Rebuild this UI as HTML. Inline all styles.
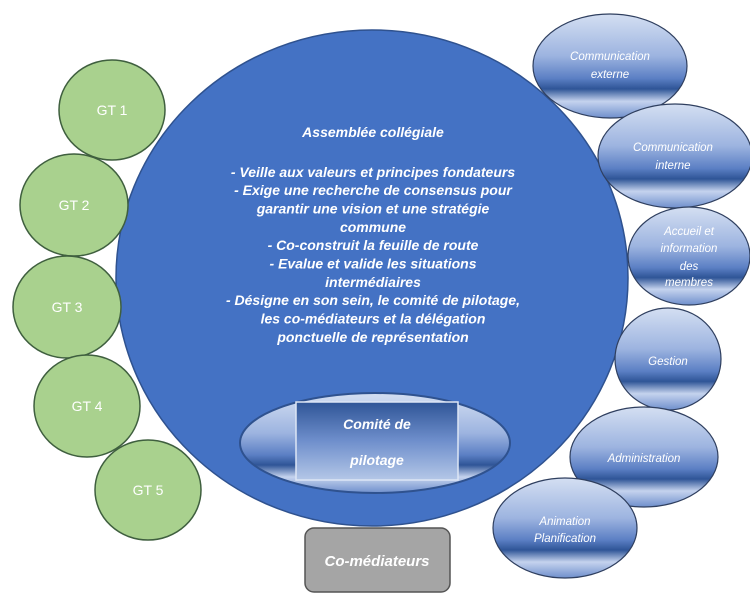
<!DOCTYPE html>
<html><head><meta charset="utf-8"><style>html,body{margin:0;padding:0;background:#fff;width:750px;height:597px;overflow:hidden}</style></head>
<body>
<svg width="750" height="597" viewBox="0 0 750 597" xmlns="http://www.w3.org/2000/svg">
<defs>
<linearGradient id="g" x1="0" y1="0" x2="0" y2="1">
<stop offset="0" stop-color="#d4dff2"/>
<stop offset="0.4" stop-color="#9db4e0"/>
<stop offset="0.62" stop-color="#5b7fc4"/>
<stop offset="0.72" stop-color="#2f5597"/>
<stop offset="0.84" stop-color="#c5d3ee"/>
<stop offset="1" stop-color="#6f8fcc"/>
</linearGradient>
<linearGradient id="r" x1="0" y1="0" x2="0" y2="1">
<stop offset="0" stop-color="#2f5597"/>
<stop offset="0.5" stop-color="#6f8fcc"/>
<stop offset="1" stop-color="#b4c7e7"/>
</linearGradient>
</defs>
<ellipse cx="372" cy="278" rx="256" ry="248" fill="#4472c4" stroke="#2f528f" stroke-width="1.5"/>
<g fill="#a9d18e" stroke="#3f5f3f" stroke-width="1.5">
<ellipse cx="112" cy="110" rx="53" ry="50"/>
<ellipse cx="74" cy="205" rx="54" ry="51"/>
<ellipse cx="67" cy="307" rx="54" ry="51"/>
<ellipse cx="87" cy="406" rx="53" ry="51"/>
<ellipse cx="148" cy="490" rx="53" ry="50"/>
</g>
<g fill="#fff" font-family="Liberation Sans, sans-serif" font-size="14" text-anchor="middle">
<text x="112" y="115">GT 1</text>
<text x="74" y="210">GT 2</text>
<text x="67" y="312">GT 3</text>
<text x="87" y="411">GT 4</text>
<text x="148" y="495">GT 5</text>
</g>
<g fill="url(#g)" stroke="#2f3f5f" stroke-width="1.2">
<ellipse cx="610" cy="66" rx="77" ry="52"/>
<ellipse cx="675" cy="156" rx="77" ry="52"/>
<ellipse cx="689" cy="256" rx="61" ry="49"/>
<ellipse cx="668" cy="359" rx="53" ry="51"/>
<ellipse cx="644" cy="457" rx="74" ry="50"/>
<ellipse cx="565" cy="528" rx="72" ry="50"/>
</g>
<g fill="#fff" font-family="Liberation Sans, sans-serif" font-size="11.5" font-style="italic" text-anchor="middle">
<text x="610" y="60">Communication</text><text x="610" y="78">externe</text>
<text x="673" y="151">Communication</text><text x="673" y="169">interne</text>
<text x="689" y="235">Accueil et</text><text x="689" y="252">information</text><text x="689" y="270">des</text><text x="689" y="286">membres</text>
<text x="668" y="365">Gestion</text>
<text x="644" y="462">Administration</text>
<text x="565" y="525">Animation</text><text x="565" y="542">Planification</text>
</g>
<ellipse cx="375" cy="443" rx="135" ry="50" fill="url(#g)" stroke="#2f528f" stroke-width="2"/>
<rect x="296" y="402" width="162" height="78" fill="url(#r)" stroke="#dde6f5" stroke-width="1.5"/>
<g fill="#fff" font-family="Liberation Sans, sans-serif" font-size="14" font-weight="bold" font-style="italic" text-anchor="middle">
<text x="377" y="429">Comité de</text>
<text x="377" y="465">pilotage</text>
</g>
<rect x="305" y="528" width="145" height="64" rx="9" fill="#a5a5a5" stroke="#555" stroke-width="1.5"/>
<text x="377" y="566" fill="#fff" font-family="Liberation Sans, sans-serif" font-size="15" font-weight="bold" font-style="italic" text-anchor="middle">Co-médiateurs</text>
<g fill="#fff" font-family="Liberation Sans, sans-serif" font-size="14" font-weight="bold" font-style="italic" text-anchor="middle">
<text x="373" y="137">Assemblée collégiale</text>
<text x="373" y="177">- Veille aux valeurs et principes fondateurs</text>
<text x="373" y="195">- Exige une recherche de consensus  pour</text>
<text x="373" y="213.5">garantir une vision et une stratégie</text>
<text x="373" y="232">commune</text>
<text x="373" y="250">- Co-construit la feuille de route</text>
<text x="373" y="268.5">- Evalue et valide les situations</text>
<text x="373" y="287">intermédiaires</text>
<text x="373" y="305">- Désigne en son sein, le comité de pilotage,</text>
<text x="373" y="323.5">les co-médiateurs et la délégation</text>
<text x="373" y="342">ponctuelle de représentation</text>
</g>
</svg>
</body></html>
